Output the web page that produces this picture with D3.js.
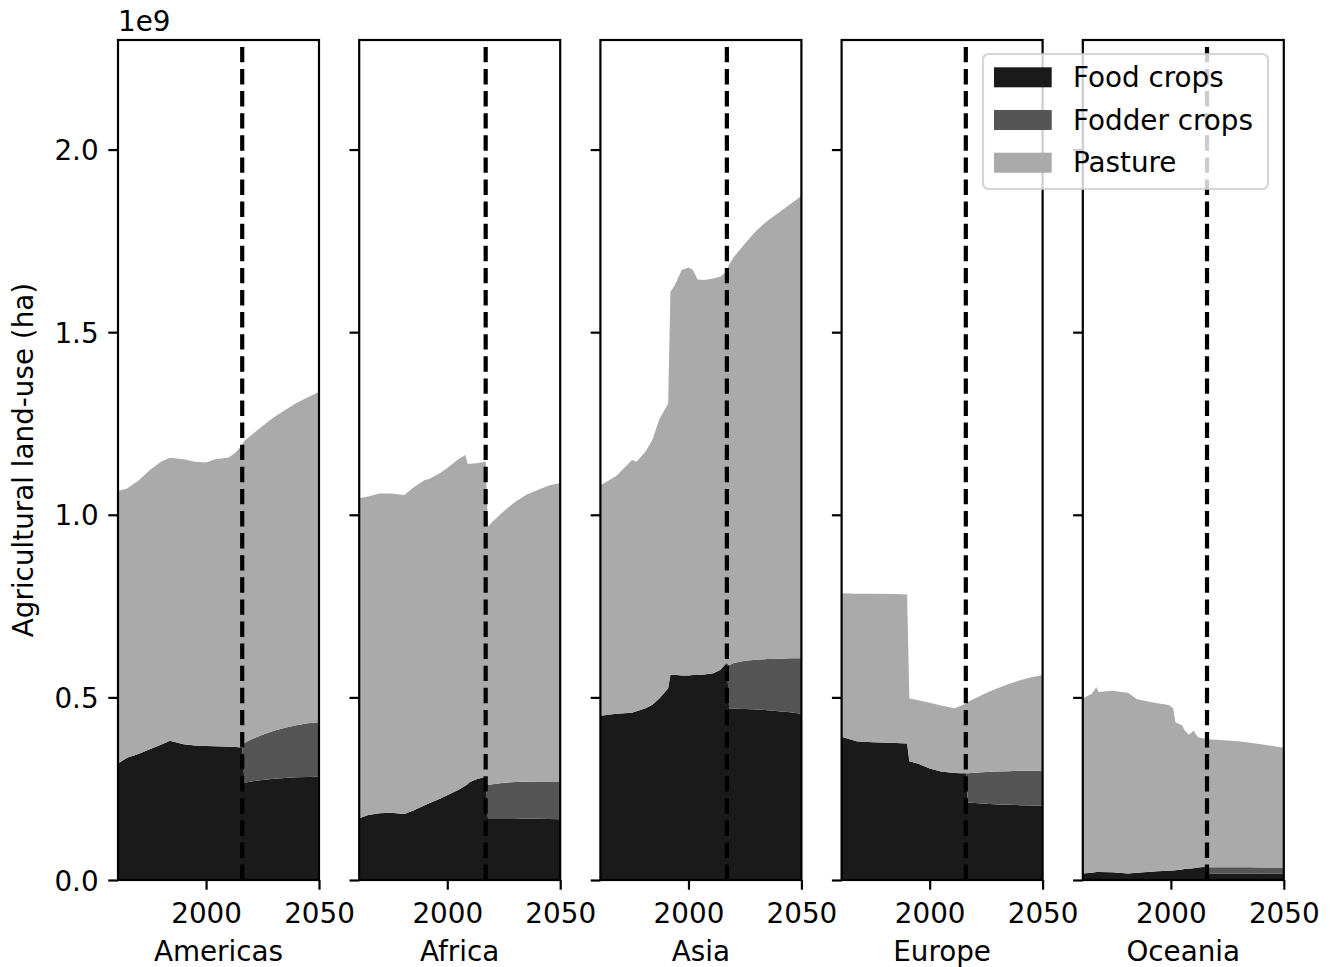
<!DOCTYPE html>
<html lang="en">
<head>
<meta charset="UTF-8">
<script src="https://cdn.jsdelivr.net/npm/d3@7"></script>
<style>
body {
    margin: 0;
    background-color: #fff;
}
text {
    font-family: "DejaVu Sans", sans-serif;
    font-size: 27.8px;
    fill: #000;
}
.spine {
    fill: none;
    stroke: #000;
    stroke-width: 2.2px;
}
.tick line {
    stroke: #000;
    stroke-width: 2.2px;
}
.split-line {
    stroke: #000;
    stroke-width: 4.2px;
    stroke-dasharray: 15.4, 6.7;
}
</style>
</head>
<body>
<div id="chart"></div>
<script>
// values in units of 1e9 ha
const regions = ["Americas", "Africa", "Asia", "Europe", "Oceania"];
const seriesNames = ["Food crops", "Fodder crops", "Pasture"];
const seriesColors = ["#1a1a1a", "#555555", "#aaaaaa"];
const splitYears = [2016, 2017, 2017, 2016, 2016];
const yTicks = [0, 0.5, 1.0, 1.5, 2.0];
const xTicks = [2000, 2050];

const americasYears   = [1961, 1965, 1970, 1975, 1980, 1984, 1990, 1995, 2000, 2004, 2010, 2013, 2016, 2017, 2020, 2025, 2030, 2035, 2040, 2045, 2050];
const americasFood    = [0.319, 0.335, 0.345, 0.358, 0.370, 0.381, 0.372, 0.368, 0.367, 0.366, 0.365, 0.364, 0.363, 0.266, 0.270, 0.274, 0.277, 0.279, 0.281, 0.282, 0.283];
const americasFodder  = [0, 0, 0, 0, 0, 0, 0, 0, 0, 0, 0, 0, 0, 0.110, 0.115, 0.124, 0.132, 0.138, 0.143, 0.147, 0.149];
const americasPasture = [0.746, 0.737, 0.748, 0.764, 0.775, 0.775, 0.780, 0.777, 0.776, 0.786, 0.792, 0.806, 0.829, 0.827, 0.833, 0.845, 0.858, 0.870, 0.882, 0.893, 0.904];

const africaYears   = [1961, 1965, 1970, 1975, 1981, 1985, 1990, 1992, 1997, 2000, 2005, 2008, 2009, 2010, 2013, 2017, 2018, 2020, 2025, 2030, 2035, 2040, 2045, 2050];
const africaFood    = [0.169, 0.178, 0.183, 0.184, 0.181, 0.190, 0.205, 0.210, 0.223, 0.232, 0.247, 0.258, 0.262, 0.268, 0.276, 0.283, 0.169, 0.169, 0.169, 0.169, 0.168, 0.168, 0.167, 0.166];
const africaFodder  = [0, 0, 0, 0, 0, 0, 0, 0, 0, 0, 0, 0, 0, 0, 0, 0, 0.091, 0.093, 0.097, 0.099, 0.101, 0.102, 0.103, 0.104];
const africaPasture = [0.876, 0.872, 0.875, 0.874, 0.873, 0.885, 0.890, 0.888, 0.892, 0.896, 0.906, 0.906, 0.878, 0.872, 0.865, 0.862, 0.707, 0.719, 0.744, 0.767, 0.786, 0.798, 0.810, 0.817];

const asiaYears   = [1961, 1968, 1975, 1977, 1981, 1984, 1987, 1991, 1992, 1994, 1997, 2000, 2002, 2004, 2007, 2011, 2014, 2017, 2018, 2020, 2025, 2030, 2035, 2040, 2045, 2050];
const asiaFood    = [0.450, 0.455, 0.458, 0.462, 0.470, 0.480, 0.496, 0.525, 0.562, 0.562, 0.560, 0.560, 0.561, 0.561, 0.563, 0.566, 0.575, 0.595, 0.468, 0.469, 0.468, 0.467, 0.465, 0.462, 0.459, 0.455];
const asiaFodder  = [0, 0, 0, 0, 0, 0, 0, 0, 0, 0, 0, 0, 0, 0, 0, 0, 0, 0, 0.120, 0.125, 0.132, 0.136, 0.140, 0.144, 0.148, 0.152];
const asiaPasture = [0.631, 0.651, 0.692, 0.683, 0.703, 0.725, 0.764, 0.780, 1.049, 1.067, 1.110, 1.117, 1.109, 1.083, 1.080, 1.081, 1.077, 1.072, 1.097, 1.111, 1.143, 1.175, 1.200, 1.222, 1.243, 1.266];

const europeYears   = [1961, 1968, 1975, 1985, 1990, 1991, 1995, 2000, 2005, 2011, 2014, 2016, 2017, 2020, 2025, 2030, 2035, 2040, 2045, 2050];
const europeFood    = [0.392, 0.379, 0.377, 0.375, 0.374, 0.325, 0.318, 0.305, 0.297, 0.293, 0.292, 0.292, 0.212, 0.211, 0.209, 0.207, 0.206, 0.205, 0.204, 0.203];
const europeFodder  = [0, 0, 0, 0, 0, 0, 0, 0, 0, 0, 0, 0, 0.080, 0.083, 0.087, 0.090, 0.092, 0.094, 0.095, 0.096];
const europePasture = [0.393, 0.405, 0.407, 0.408, 0.408, 0.172, 0.174, 0.180, 0.181, 0.177, 0.185, 0.191, 0.196, 0.203, 0.216, 0.228, 0.239, 0.248, 0.256, 0.262];

const oceaniaYears   = [1961, 1965, 1967, 1968, 1974, 1981, 1985, 1994, 1999, 2001, 2002, 2005, 2006, 2008, 2010, 2012, 2016, 2017, 2020, 2025, 2030, 2035, 2040, 2045, 2050];
const oceaniaFood    = [0.018, 0.020, 0.022, 0.022, 0.021, 0.018, 0.020, 0.024, 0.025, 0.026, 0.027, 0.029, 0.030, 0.031, 0.032, 0.034, 0.036, 0.018, 0.018, 0.018, 0.018, 0.018, 0.017, 0.017, 0.017];
const oceaniaFodder  = [0, 0, 0, 0, 0, 0, 0, 0, 0, 0, 0, 0, 0, 0, 0, 0, 0, 0.017, 0.017, 0.017, 0.017, 0.017, 0.017, 0.017, 0.017];
const oceaniaPasture = [0.479, 0.490, 0.506, 0.493, 0.497, 0.495, 0.475, 0.460, 0.454, 0.444, 0.405, 0.395, 0.381, 0.367, 0.377, 0.357, 0.350, 0.350, 0.349, 0.347, 0.345, 0.341, 0.338, 0.333, 0.328];

const regionData = [
    [americasYears, americasFood, americasFodder, americasPasture],
    [africaYears, africaFood, africaFodder, africaPasture],
    [asiaYears, asiaFood, asiaFodder, asiaPasture],
    [europeYears, europeFood, europeFodder, europePasture],
    [oceaniaYears, oceaniaFood, oceaniaFodder, oceaniaPasture]
];

const width = 1333, height = 967;
const plotTop = 40, plotH = 840, plotW = 201;
const left0 = 118, step = 241.2;

const svg = d3.select("#chart").append("svg")
    .attr("width", width)
    .attr("height", height);

const x = d3.scaleLinear().domain([1961, 2050]).range([0, plotW]);
const y = d3.scaleLinear().domain([0, 2.3]).range([plotH, 0]);

const keys = ["food", "fodder", "pasture"];
const stack = d3.stack().keys(keys);
const area = d3.area()
    .x(d => x(d.data.year))
    .y0(d => y(d[0]))
    .y1(d => y(d[1]));

regions.forEach((name, i) => {
    const [years, food, fodder, pasture] = regionData[i];
    const rows = years.map((yr, j) => ({year: yr, food: food[j], fodder: fodder[j], pasture: pasture[j]}));

    const g = svg.append("g")
        .attr("transform", `translate(${left0 + i * step},${plotTop})`);

    g.selectAll(".layer")
        .data(stack(rows))
        .enter().append("path")
        .attr("class", "layer")
        .attr("d", area)
        .attr("fill", (d, k) => seriesColors[k]);

    // projection start
    g.append("line")
        .attr("class", "split-line")
        .attr("x1", x(splitYears[i]))
        .attr("x2", x(splitYears[i]))
        .attr("y1", plotH)
        .attr("y2", 0);

    // Y axis
    const yAxis = g.append("g")
        .call(d3.axisLeft(y).tickValues(yTicks).tickSize(9.7).tickPadding(9.7)
            .tickFormat(i === 0 ? d3.format(".1f") : ""));
    yAxis.select(".domain").remove();
    yAxis.selectAll("text").attr("dy", "0.36em");

    // X axis
    const xAxis = g.append("g")
        .attr("transform", `translate(0,${plotH})`)
        .call(d3.axisBottom(x).tickValues(xTicks).tickSize(9.7).tickPadding(13.3)
            .tickFormat(d3.format("d")));
    xAxis.select(".domain").remove();

    g.append("text")
        .attr("x", plotW / 2)
        .attr("y", 921)
        .attr("text-anchor", "middle")
        .text(name);

    g.append("rect")
        .attr("class", "spine")
        .attr("width", plotW)
        .attr("height", plotH);
});

svg.selectAll(".tick text").style("font-size", "27.8px").style("font-family", "'DejaVu Sans', sans-serif");

// offset text and y label
svg.append("text")
    .attr("x", 118)
    .attr("y", 31)
    .text("1e9");

svg.append("text")
    .attr("transform", `translate(33,${plotTop + plotH / 2}) rotate(-90)`)
    .attr("text-anchor", "middle")
    .text("Agricultural land-use (ha)");

// Legend
const legend = svg.append("g")
    .attr("transform", "translate(983,54)");

legend.append("rect")
    .attr("width", 285)
    .attr("height", 135)
    .attr("rx", 5.6)
    .attr("fill", "#fff")
    .attr("fill-opacity", 0.8)
    .attr("stroke", "#cccccc")
    .attr("stroke-opacity", 0.8)
    .attr("stroke-width", 2.2);

seriesNames.forEach((s, k) => {
    legend.append("rect")
        .attr("x", 11)
        .attr("y", 13.3 + k * 42.7)
        .attr("width", 57.7)
        .attr("height", 20)
        .attr("fill", seriesColors[k]);
    legend.append("text")
        .attr("x", 90)
        .attr("y", 33 + k * 42.7)
        .text(s);
});
</script>
</body>
</html>
